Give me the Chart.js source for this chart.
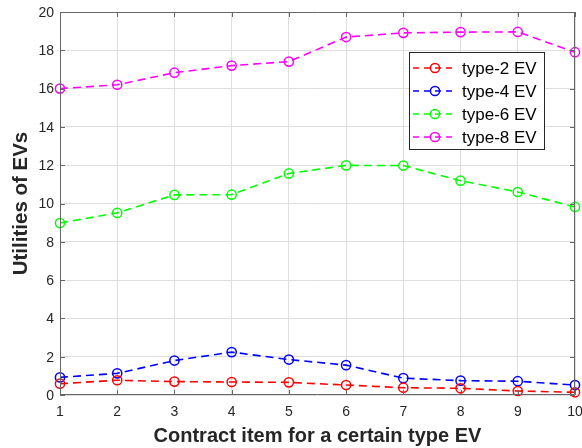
<!DOCTYPE html>
<html>
<head>
<meta charset="utf-8">
<script src="https://cdn.jsdelivr.net/npm/chart.js@4"></script>
<style>
  html, body { margin: 0; padding: 0; background: #fff; }
  #wrap { width: 582px; height: 448px; }
</style>
</head>
<body>
<div id="wrap"><canvas id="chart"></canvas></div>
<script>
const items = [1, 2, 3, 4, 5, 6, 7, 8, 9, 10];
const type2 = [0.59, 0.77, 0.70, 0.68, 0.66, 0.52, 0.38, 0.35, 0.21, 0.14];
const type4 = [0.92, 1.13, 1.80, 2.24, 1.85, 1.56, 0.88, 0.75, 0.72, 0.52];
const type6 = [8.98, 9.51, 10.45, 10.46, 11.57, 11.99, 11.98, 11.19, 10.60, 9.82];
const type8 = [16.0, 16.2, 16.83, 17.2, 17.41, 18.69, 18.91, 18.95, 18.96, 17.9];
const seriesNames = ['type-2 EV', 'type-4 EV', 'type-6 EV', 'type-8 EV'];
const seriesColors = ['#ff0000', '#0000ff', '#00ff00', '#ff00ff'];

const FONT = '"Liberation Sans", Arial, sans-serif';
const textColor = '#262626';
const dash = [8, 5];

const makeSet = (label, values, color) => ({
    label: label,
    data: values.map((v, i) => ({ x: items[i], y: v })),
    borderColor: color,
    backgroundColor: 'rgba(0,0,0,0)',
    borderWidth: 1.6,
    borderDash: dash,
    pointRadius: 4.6,
    pointHoverRadius: 4.6,
    pointBorderWidth: 1.5,
    pointBorderColor: color,
    pointBackgroundColor: 'rgba(0,0,0,0)',
    clip: false,
});

// box around plot area + inward ticks, like matlab
const boxPlugin = {
    id: 'box',
    afterDatasetsDraw(chart) {
        const { ctx, chartArea: a, scales } = chart;
        ctx.save();
        ctx.strokeStyle = '#666';
        ctx.lineWidth = 1;
        ctx.beginPath();
        ctx.rect(a.left + 0.5, a.top + 0.5, a.right - a.left - 1, a.bottom - a.top - 1);
        ctx.stroke();
        ctx.beginPath();
        scales.x.ticks.forEach(t => {
            const px = Math.round(scales.x.getPixelForValue(t.value)) + 0.5;
            ctx.moveTo(px, a.bottom); ctx.lineTo(px, a.bottom - 5);
            ctx.moveTo(px, a.top); ctx.lineTo(px, a.top + 5);
        });
        scales.y.ticks.forEach(t => {
            const py = Math.round(scales.y.getPixelForValue(t.value)) + 0.5;
            ctx.moveTo(a.left, py); ctx.lineTo(a.left + 5, py);
            ctx.moveTo(a.right, py); ctx.lineTo(a.right - 5, py);
        });
        ctx.stroke();
        ctx.restore();
    }
};

// legend box inside the plot, top right
const legendPlugin = {
    id: 'insideLegend',
    afterDraw(chart) {
        const { ctx } = chart;
        const x0 = 409, y0 = 52, w = 135, h = 97;
        ctx.save();
        ctx.fillStyle = '#fff';
        ctx.fillRect(x0, y0, w, h);
        ctx.strokeStyle = '#262626';
        ctx.lineWidth = 1;
        ctx.strokeRect(x0 + 0.5, y0 + 0.5, w, h);
        ctx.font = '17px ' + FONT;
        ctx.textBaseline = 'middle';
        chart.data.datasets.forEach((ds, i) => {
            const cy = y0 + 16 + i * 23;
            ctx.strokeStyle = ds.borderColor;
            ctx.lineWidth = 1.6;
            ctx.setLineDash([6, 5]);
            ctx.beginPath();
            ctx.moveTo(x0 + 4, cy); ctx.lineTo(x0 + 47, cy);
            ctx.stroke();
            ctx.setLineDash([]);
            ctx.lineWidth = 1.5;
            ctx.beginPath();
            ctx.arc(x0 + 26, cy, 4.6, 0, Math.PI * 2);
            ctx.stroke();
            ctx.fillStyle = '#000';
            ctx.fillText(ds.label, x0 + 53, cy + 1);
        });
        ctx.restore();
    }
};

new Chart(document.getElementById('chart'), {
    type: 'line',
    data: {
        datasets: [
            makeSet(seriesNames[0], type2, seriesColors[0]),
            makeSet(seriesNames[1], type4, seriesColors[1]),
            makeSet(seriesNames[2], type6, seriesColors[2]),
            makeSet(seriesNames[3], type8, seriesColors[3]),
        ]
    },
    options: {
        responsive: true,
        maintainAspectRatio: false,
        animation: false,
        layout: { padding: { left: 0, right: 7, top: 12, bottom: 0 } },
        plugins: {
            legend: { display: false },
            tooltip: { enabled: false },
        },
        scales: {
            x: {
                type: 'linear',
                min: 1,
                max: 10,
                afterFit: (s) => { s.height = 53; s.paddingLeft = 0; s.paddingRight = 0; },
                ticks: {
                    stepSize: 1,
                    color: textColor,
                    font: { family: FONT, size: 14 },
                    padding: 9,
                    maxRotation: 0,
                },
                grid: { color: '#dedede', drawTicks: false },
                border: { display: false },
                title: {
                    display: true,
                    text: 'Contract item for a certain type EV',
                    color: textColor,
                    font: { family: FONT, size: 20, weight: 'bold' },
                    padding: { top: 2, bottom: 0 },
                },
            },
            y: {
                min: 0,
                max: 20,
                afterFit: (s) => { s.width = 60; s.paddingTop = 0; s.paddingBottom = 0; },
                ticks: {
                    stepSize: 2,
                    color: textColor,
                    font: { family: FONT, size: 14 },
                    padding: 6,
                    labelOffset: 1,
                },
                grid: { color: '#dedede', drawTicks: false },
                border: { display: false },
                title: {
                    display: true,
                    text: 'Utilities of EVs',
                    color: textColor,
                    font: { family: FONT, size: 20.5, weight: 'bold' },
                    padding: { top: 9, bottom: 3 },
                },
            },
        },
    },
    plugins: [boxPlugin, legendPlugin],
});
</script>
</body>
</html>
